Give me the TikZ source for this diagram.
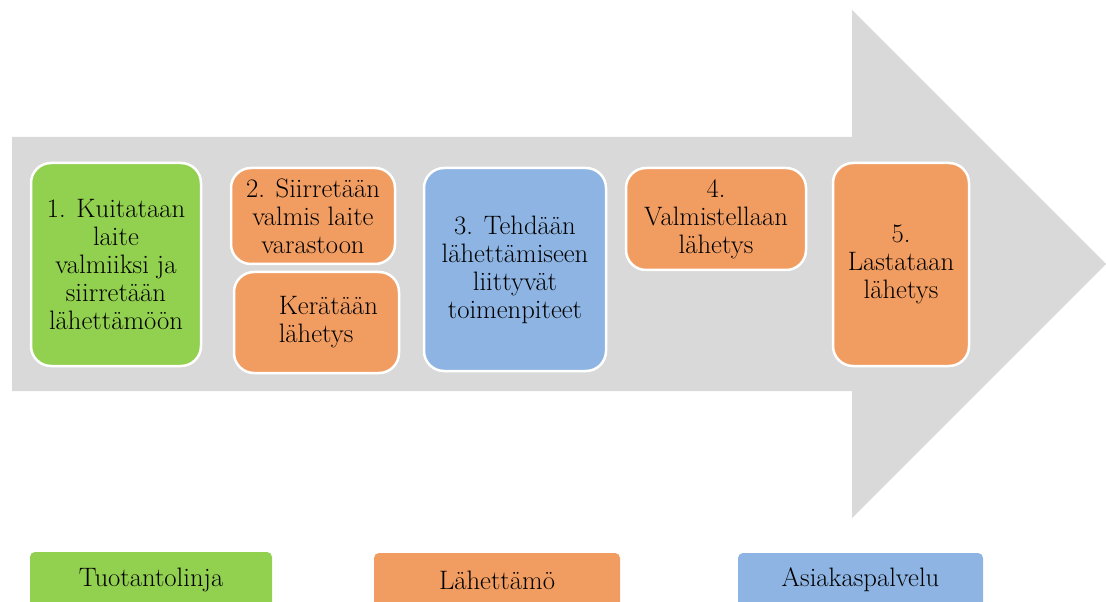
\documentclass[tikz,border=0pt]{standalone}
\usepackage{fontspec}
\newdimen\px
\px=0.75pt
\definecolor{arrowgrey}{HTML}{D9D9D9}
\definecolor{linegreen}{HTML}{92D050}
\definecolor{shiporange}{HTML}{F19D62}
\definecolor{serviceblue}{HTML}{8DB4E2}
\begin{document}
\begin{tikzpicture}[x=1\px, y=-1\px,
  stepbox/.style={draw=white, line width=2.5\px, rounded corners=20\px,
    align=center, inner sep=0pt, font=\rmfamily\fontsize{20}{21}\selectfont},
  legendbox/.style={draw=none, rounded corners=5\px, inner sep=0pt,
    font=\rmfamily\fontsize{20}{21}\selectfont},
  label/.style={align=left, inner sep=0pt, font=\rmfamily\fontsize{20}{21}\selectfont}]
\useasboundingbox (0,0) rectangle (1106,602);
\clip (0,0) rectangle (1106,602);

% big process arrow in the background
\fill[arrowgrey] (12,137) -- (852,137) -- (852,10) -- (1106,264)
  -- (852,518) -- (852,391) -- (12,391) -- cycle;

% process steps
\node[stepbox, fill=linegreen, minimum width=170\px, minimum height=203\px]
  (s1) at (116,264.5) {1. Kuitataan\\laite\\valmiiksi ja\\siirretään\\lähettämöön};
\node[stepbox, fill=shiporange, minimum width=164\px, minimum height=96\px]
  (s2a) at (313,216) {2. Siirretään\\valmis laite\\varastoon};
\node[stepbox, fill=shiporange, minimum width=165\px, minimum height=101\px]
  (s2b) at (316.5,322.5) {};
\node[label, anchor=west] (s2bt) at ([xshift=-38\px]s2b.center) {Kerätään\\lähetys};
\node[stepbox, fill=serviceblue, minimum width=182\px, minimum height=203\px]
  (s3) at (515,269.5) {3. Tehdään\\lähettämiseen\\liittyvät\\toimenpiteet};
\node[stepbox, fill=shiporange, minimum width=180\px, minimum height=102\px]
  (s4) at (716,219) {4.\\Valmistellaan\\lähetys};
\node[stepbox, fill=shiporange, minimum width=136\px, minimum height=203\px]
  (s5) at (901,264.5) {5.\\Lastataan\\lähetys};

% legend
\node[legendbox, fill=linegreen, minimum width=242\px, minimum height=56\px]
  (lg1) at (151,580) {Tuotantolinja};
\node[legendbox, fill=shiporange, minimum width=246\px, minimum height=54\px]
  (lg2) at (497,580) {Lähettämö};
\node[legendbox, fill=serviceblue, minimum width=245\px, minimum height=54\px]
  (lg3) at (860.5,580) {Asiakaspalvelu};
\end{tikzpicture}
\end{document}
